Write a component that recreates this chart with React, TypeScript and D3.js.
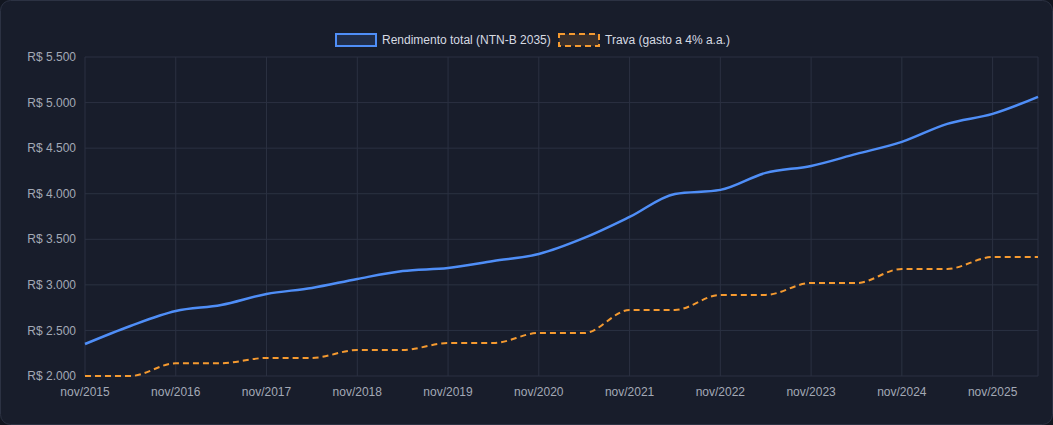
import React, { useEffect } from "react";
import * as d3 from "d3";

const dates = [
  "2015-11", "2016-05", "2016-11", "2017-05", "2017-11", "2018-05", "2018-11", "2019-05",
  "2019-11", "2020-05", "2020-11", "2021-05", "2021-11", "2022-05", "2022-11", "2023-05",
  "2023-11", "2024-05", "2024-11", "2025-05", "2025-11", "2026-05",
];
const rendimento = [
  2351, 2549, 2713, 2779, 2900, 2966, 3065, 3152, 3185, 3262, 3339, 3515,
  3745, 3998, 4042, 4229, 4305, 4437, 4569, 4766, 4876, 5063,
];
const trava = [
  2000, 2000, 2140, 2140, 2198, 2198, 2285, 2285, 2362, 2362, 2472, 2472,
  2725, 2725, 2890, 2890, 3020, 3020, 3175, 3175, 3306, 3306,
];
const xTickLabels = [
  "nov/2015", "nov/2016", "nov/2017", "nov/2018", "nov/2019", "nov/2020",
  "nov/2021", "nov/2022", "nov/2023", "nov/2024", "nov/2025",
];
const yTicks = [2000, 2500, 3000, 3500, 4000, 4500, 5000, 5500];

const W = 1053, H = 425;
const font = "Helvetica, 'Liberation Sans', Arial, sans-serif";
const textColor = "#a3a9b6";
const grid = "#2b3142";

const App: React.FC = () => {
  useEffect(() => {
    document.body.style.margin = "0";
    document.body.style.background = "#121620";
  }, []);

  const x = d3.scalePoint<string>().domain(dates).range([85, 1038]);
  const y = d3.scaleLinear().domain([2000, 5500]).range([376, 57]);
  const line = d3.line<number>()
    .x((_, i) => x(dates[i])!)
    .y(d => y(d))
    .curve(d3.curveMonotoneX);
  const fmt = (v: number) => "R$ " + d3.format(",")(v).replace(",", ".");

  return (
    <svg width={W} height={H} style={{ display: "block", fontFamily: font }}>
      <rect x={0.5} y={0.5} width={W - 1} height={H - 1} rx={10} fill="#181d2b" stroke="#2c3243" />
      {yTicks.map(t => (
        <g key={t}>
          <line x1={85} x2={1038} y1={y(t)} y2={y(t)} stroke={grid} />
          <text x={76} y={y(t)} dy="0.35em" textAnchor="end" fontSize={12} fill={textColor}>{fmt(t)}</text>
        </g>
      ))}
      {dates.filter((_, i) => i % 2 === 0).map((d, i) => (
        <g key={d}>
          <line x1={x(d)} x2={x(d)} y1={57} y2={376} stroke={grid} />
          <text x={x(d)} y={396} textAnchor="middle" fontSize={12} fill={textColor}>{xTickLabels[i]}</text>
        </g>
      ))}
      <line x1={1038} x2={1038} y1={57} y2={376} stroke={grid} />
      <path d={line(trava)!} fill="none" stroke="#f59a30" strokeWidth={2} strokeDasharray="6,4" />
      <path d={line(rendimento)!} fill="none" stroke="#4f8ef7" strokeWidth={2.5} />
      <g fontSize={12} fill="#d6dae2">
        <rect x={336} y={34} width={40} height={12} fill="rgba(79,142,247,0.15)" stroke="#4f8ef7" strokeWidth={2} />
        <text x={382} y={40} dy="0.35em" fill="#d6dae2">Rendimento total (NTN-B 2035)</text>
        <rect x={559} y={34} width={40} height={12} fill="rgba(245,154,48,0.15)" stroke="#f59a30" strokeWidth={2} strokeDasharray="6,4" />
        <text x={605} y={40} dy="0.35em" fill="#d6dae2">Trava (gasto a 4% a.a.)</text>
      </g>
    </svg>
  );
};

export default App;
